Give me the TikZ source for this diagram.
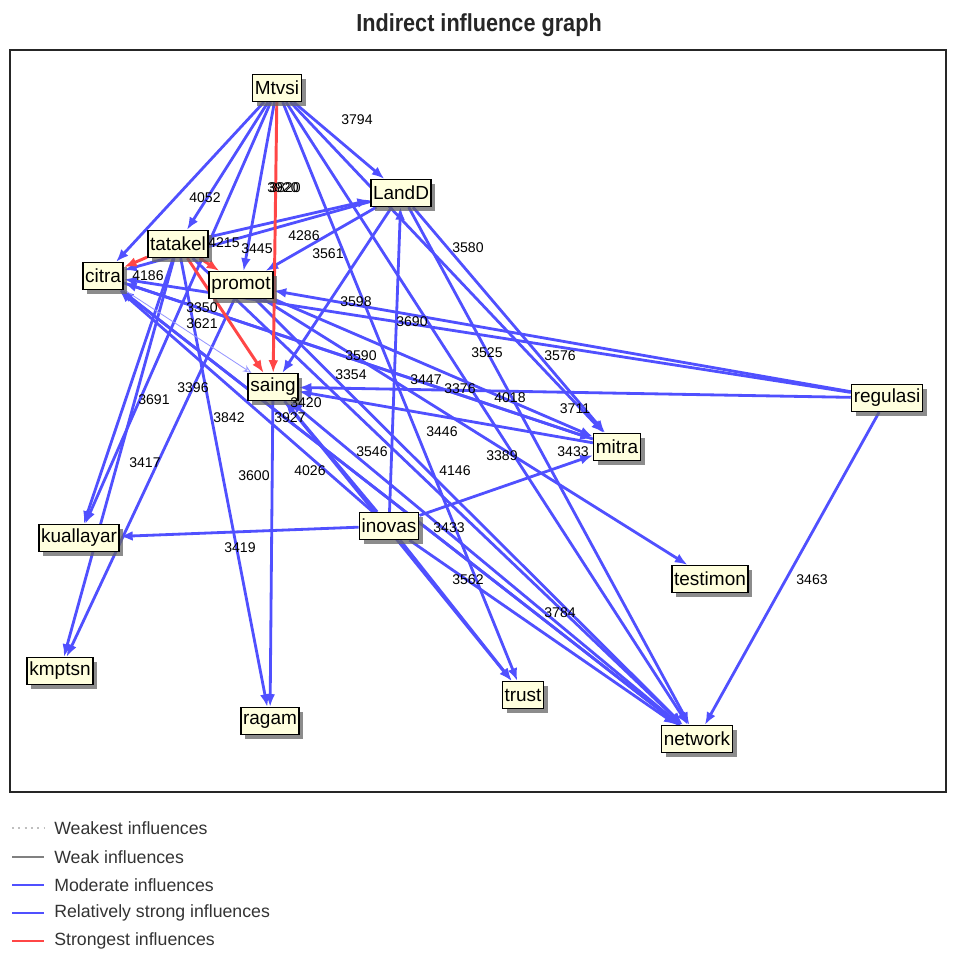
\documentclass[tikz,border=0pt]{standalone}
\usepackage{fontspec}
\setmainfont{Liberation Sans}
\usetikzlibrary{arrows.meta,shadows,backgrounds}
\definecolor{edgeblue}{RGB}{80,80,255}
\definecolor{edgered}{RGB}{255,70,70}
\definecolor{nodefill}{RGB}{255,255,222}
\tikzset{
  vbox/.style={draw=black, line width=1.1pt, fill=nodefill, inner sep=1.6pt,
    minimum height=19pt, font=\fontsize{13.5}{15}\selectfont,
    drop shadow={shadow xshift=3pt, shadow yshift=-3pt, fill=black!60, opacity=0.75}},
  bedge/.style={draw=edgeblue, line width=2pt, -{Latex[length=9pt,width=7pt]}},
  redge/.style={draw=edgered, line width=2.1pt, -{Latex[length=9pt,width=7pt]}},
  tedge/.style={draw=edgeblue!60, line width=0.6pt, -{Stealth[open,length=6pt,width=5pt]}},
  lbl/.style={font=\fontsize{10}{11}\selectfont, inner sep=0pt},
  legtext/.style={font=\fontsize{12.6}{14}\selectfont, text=black!80, anchor=west, inner sep=0pt},
  titlest/.style={font=\fontsize{17.5}{20}\selectfont\bfseries, text=black!85, inner sep=0pt},
}
\begin{document}
\begin{tikzpicture}[x=0.025cm,y=-0.025cm]
\useasboundingbox (0,0) rectangle (953,955);
\node[titlest] (title) at (479,25) {\scalebox{0.88}[1]{Indirect influence graph}};
\draw[line width=0.9pt, black!85] (10,50) rectangle (946,792);

% variables
\node[vbox] (Mtvsi)    at (277,88)  {Mtvsi};
\node[vbox] (LandD)    at (401,193) {LandD};
\node[vbox] (tatakel)  at (178,244) {tatakel};
\node[vbox] (citra)    at (103,276) {citra};
\node[vbox] (promot)   at (241,285) {promot};
\node[vbox] (saing)    at (273,387) {saing};
\node[vbox] (regulasi) at (887,398) {regulasi};
\node[vbox] (mitra)    at (617,447) {mitra};
\node[vbox] (inovas)   at (389,526) {inovas};
\node[vbox] (kuallayar) at (79,538) {kuallayar};
\node[vbox] (testimon) at (710,579) {testimon};
\node[vbox] (kmptsn)   at (60,671)  {kmptsn};
\node[vbox] (trust)    at (523,695) {trust};
\node[vbox] (ragam)    at (270,721) {ragam};
\node[vbox] (network)  at (697,739) {network};

\begin{scope}[on background layer]
  \foreach \s/\t in {Mtvsi/citra, Mtvsi/tatakel, Mtvsi/promot, Mtvsi/LandD,
      Mtvsi/mitra, Mtvsi/network, Mtvsi/trust, Mtvsi/kuallayar,
      tatakel/LandD, LandD/promot, LandD/citra, LandD/saing, LandD/mitra,
      LandD/network, inovas/LandD,
      citra/mitra, citra/network, regulasi/citra, regulasi/promot,
      inovas/citra, mitra/citra, network/citra,
      promot/testimon, promot/network, promot/mitra, promot/kmptsn,
      saing/ragam, regulasi/saing, mitra/saing, inovas/saing, network/saing,
      saing/trust,
      tatakel/kuallayar, tatakel/kmptsn, tatakel/ragam, tatakel/network,
      inovas/kuallayar, inovas/mitra, inovas/trust, inovas/network,
      regulasi/network}
    \draw[bedge] (\s) -- (\t);
  \draw[tedge] (citra) -- (saing);
  \foreach \s/\t in {Mtvsi/saing, tatakel/saing, tatakel/citra, tatakel/promot}
    \draw[redge] (\s) -- (\t);
\end{scope}

% influence values
\foreach \x/\y/\v [count=\i] in {357/120/3794, 205/198/4052, 283/188/3920, 285/188/3820,
    224/243/4215, 257/249/3445, 304/236/4286, 328/254/3561, 468/248/3580,
    148/276/4186, 356/302/3598, 412/322/3690, 202/308/3350, 202/324/3621,
    361/356/3590, 351/375/3354, 426/380/3447, 460/389/3376, 510/398/4018,
    487/353/3525, 560/356/3576, 575/409/3711, 193/388/3396, 154/400/3691,
    229/418/3842, 306/403/3420, 290/418/3927, 442/432/3446, 372/452/3546,
    502/456/3389, 573/452/3433, 455/471/4146, 145/463/3417, 254/476/3600,
    310/471/4026, 449/528/3433, 240/548/3419, 468/580/3562, 560/613/3784,
    812/580/3463}
  \node[lbl] (v\i) at (\x,\y) {\v};

% legend
\draw[gray!50, line width=0.8pt, dash pattern=on 1.5pt off 3pt] (12,828) -- (44,828);
\draw[gray, line width=1pt] (12,857) -- (44,857);
\draw[edgeblue, line width=0.8pt] (12,885) -- (44,885);
\draw[edgeblue, line width=2pt] (12,913) -- (44,913);
\draw[edgered, line width=2pt] (12,941) -- (44,941);
\node[legtext] (lg1) at (54,828) {Weakest influences};
\node[legtext] (lg2) at (54,857) {Weak influences};
\node[legtext] (lg3) at (54,885) {Moderate influences};
\node[legtext] (lg4) at (54,913) {Relatively strong influences};
\node[legtext] (lg5) at (54,941) {Strongest influences};
\end{tikzpicture}
\end{document}
